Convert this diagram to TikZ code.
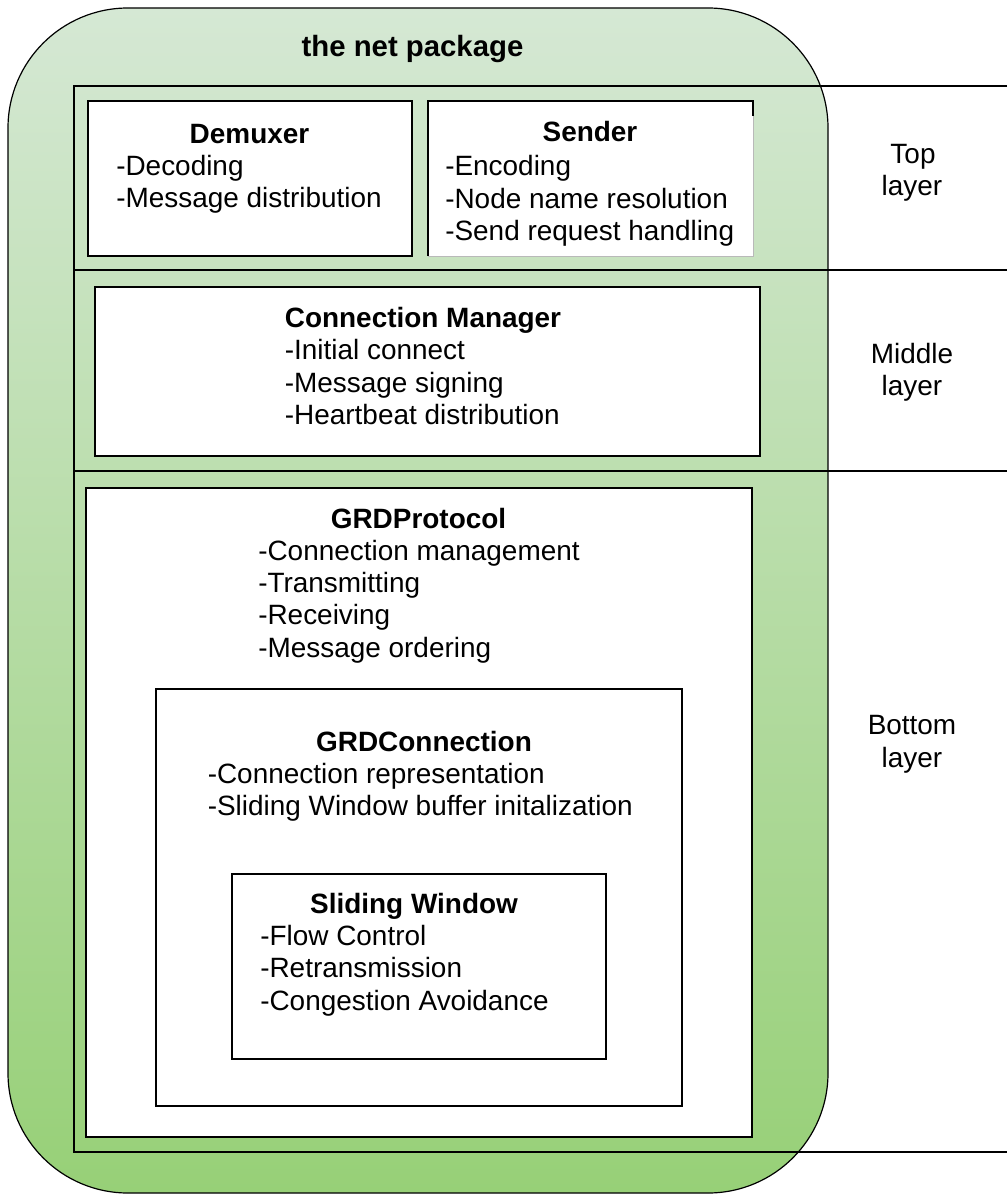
\documentclass[tikz,border=0pt]{standalone}
\usepackage{fontspec}
\setmainfont{Liberation Sans}
\usetikzlibrary{fit}

\definecolor{pkgtop}{HTML}{D5E8D4}
\definecolor{pkgbottom}{HTML}{97D077}
\newcommand\bodyfont{\fontsize{20.95}{24.3}\selectfont}
\newcommand\titlefont{\fontsize{22}{26}\selectfont\bfseries}

\begin{document}
\begin{tikzpicture}[x=0.75pt, y=-0.75pt,
  frame/.style={draw=black, line width=0.9pt, inner sep=0pt, outer sep=0pt},
  pkg/.style={frame, rounded corners=90pt, top color=pkgtop, bottom color=pkgbottom},
  module/.style={frame, fill=white},
  layerline/.style={draw=black, line width=0.9pt},
  head/.style={anchor=base, inner sep=0pt, font=\bodyfont\bfseries},
  headleft/.style={anchor=base west, inner sep=0pt, font=\bodyfont\bfseries},
  item/.style={anchor=base west, inner sep=0pt, font=\bodyfont},
  layerlabel/.style={anchor=base, inner sep=0pt, font=\bodyfont}]
\useasboundingbox (0,0) rectangle (1007,1194);

% the package container
\node[pkg, fit={(8,8) (828,1193)}] (pkg) {};
\node[anchor=base, inner sep=0pt, font=\titlefont] (title) at (412.5,57) {the net package};

% layer bands
\coordinate (topL) at (74,86);    \coordinate (topR) at (1007,86);
\coordinate (midL) at (74,270);   \coordinate (midR) at (1007,270);
\coordinate (botL) at (74,471);   \coordinate (botR) at (1007,471);
\coordinate (endL) at (74,1152);  \coordinate (endR) at (1007,1152);
\draw[layerline] (topR) -- (topL) -- (endL) -- (endR);
\draw[layerline] (midL) -- (midR);
\draw[layerline] (botL) -- (botR);

\node[layerlabel] (ltop1) at (913,163.3) {Top};
\node[layerlabel] (ltop2) at (912,196) {layer};
\node[layerlabel] (lmid1) at (912,363) {Middle};
\node[layerlabel] (lmid2) at (912,395.7) {layer};
\node[layerlabel] (lbot1) at (912,734.3) {Bottom};
\node[layerlabel] (lbot2) at (912,767) {layer};

% top layer modules
\node[module, fit={(88,101) (412,256)}] (demuxer) {};
\node[head] (demuxer-h) at (249.5,143.5) {Demuxer};
\node[item] (demuxer-1) at (116,175.5) {-Decoding};
\node[item] (demuxer-2) at (116,208) {-Message distribution};

\node[module, draw=gray!55, line width=0.5pt, fit={(428,101) (753,256)}] (sender) {};
\draw[layerline] (sender.south west) -- (sender.north west) -- (sender.north east) -- ++(0,15);
\node[head] (sender-h) at (590,142) {Sender};
\node[item] (sender-1) at (445,176) {-Encoding};
\node[item] (sender-2) at (445,208.3) {-Node name resolution};
\node[item] (sender-3) at (445,240.6) {-Send request handling};

% middle layer module
\node[module, fit={(95,287) (760,456)}] (connmgr) {};
\node[headleft] (connmgr-h) at (284.6,327.3) {Connection Manager};
\node[item] (connmgr-1) at (284.6,359.7) {-Initial connect};
\node[item] (connmgr-2) at (284.6,392.1) {-Message signing};
\node[item] (connmgr-3) at (284.6,424.5) {-Heartbeat distribution};

% bottom layer modules, nested
\node[module, fit={(86,488) (752,1137)}] (protocol) {};
\node[head] (protocol-h) at (418.5,528.5) {GRDProtocol};
\node[item] (protocol-1) at (258,560) {-Connection management};
\node[item] (protocol-2) at (258,592.4) {-Transmitting};
\node[item] (protocol-3) at (258,624.8) {-Receiving};
\node[item] (protocol-4) at (258,657.2) {-Message ordering};

\node[module, fit={(156,689) (682,1106)}] (connection) {};
\node[head] (connection-h) at (424,751.5) {GRDConnection};
\node[item] (connection-1) at (207.5,783) {-Connection representation};
\node[item] (connection-2) at (207.5,815.2) {-Sliding Window buffer initalization};

\node[module, fit={(232,874) (606,1059)}] (window) {};
\node[head] (window-h) at (414,913) {Sliding Window};
\node[item] (window-1) at (260,945) {-Flow Control};
\node[item] (window-2) at (260,977.5) {-Retransmission};
\node[item] (window-3) at (260,1010) {-Congestion Avoidance};
\end{tikzpicture}
\end{document}
